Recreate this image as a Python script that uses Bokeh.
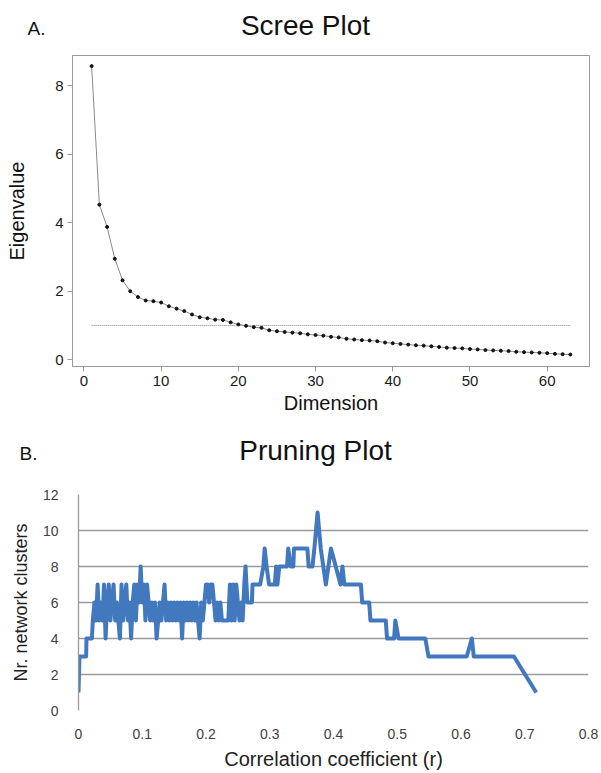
from bokeh.plotting import figure
from bokeh.models import Label, FixedTicker, NumeralTickFormatter, Range1d
from bokeh.embed import file_html
from bokeh.resources import INLINE

FONT = "Liberation Sans"

# ---------------- data: scree plot ----------------
DIMENSIONS = list(range(1, 64))
EIGENVALUES = [8.58, 4.53, 3.88, 2.95, 2.32, 2.00, 1.83, 1.73, 1.71, 1.67,
               1.56, 1.49, 1.42, 1.32, 1.24, 1.21, 1.17, 1.16, 1.09, 1.03,
               0.99, 0.95, 0.93, 0.86, 0.83, 0.81, 0.79, 0.77, 0.74, 0.72,
               0.70, 0.67, 0.65, 0.61, 0.59, 0.57, 0.56, 0.54, 0.50, 0.48,
               0.46, 0.44, 0.42, 0.41, 0.39, 0.37, 0.35, 0.34, 0.33, 0.31,
               0.30, 0.28, 0.27, 0.26, 0.25, 0.23, 0.22, 0.21, 0.20, 0.19,
               0.17, 0.16, 0.15]
KAISER = 1.0
SCREE_X_TICKS = [0, 10, 20, 30, 40, 50, 60]
SCREE_Y_TICKS = [0, 2, 4, 6, 8]

# ---------------- data: pruning plot ----------------
R_VALUES = [0.0, 0.0015, 0.012, 0.0125, 0.021,
            0.0225, 0.025, 0.0275, 0.03, 0.0325, 0.035, 0.0375, 0.04, 0.0425, 0.045,
            0.0475, 0.05, 0.0525, 0.055, 0.0575, 0.06, 0.0625, 0.065, 0.0675, 0.07,
            0.0725, 0.075, 0.0775, 0.08, 0.0825, 0.085, 0.0875, 0.09, 0.0925, 0.095,
            0.0975, 0.1, 0.1025, 0.105, 0.1075, 0.11, 0.1125, 0.115, 0.1175, 0.12,
            0.1225, 0.125, 0.1275, 0.13, 0.1325, 0.135, 0.1375, 0.14, 0.1425, 0.145,
            0.1475, 0.15, 0.1525, 0.155, 0.1575, 0.16, 0.1625, 0.165, 0.1675, 0.17,
            0.1725, 0.175, 0.1775, 0.18, 0.1825, 0.185, 0.1875, 0.19, 0.1925, 0.195,
            0.1975, 0.2, 0.2025, 0.205, 0.2075, 0.21, 0.2125, 0.215, 0.2175, 0.22,
            0.2225, 0.225, 0.23, 0.235, 0.2375, 0.24, 0.2425, 0.245, 0.2475, 0.25,
            0.2525, 0.255, 0.2575, 0.26, 0.262, 0.265, 0.272, 0.273, 0.285, 0.29,
            0.292, 0.295, 0.299, 0.308, 0.31, 0.312, 0.315, 0.327, 0.329, 0.333,
            0.337, 0.338, 0.359, 0.361, 0.367, 0.37, 0.375, 0.38, 0.388, 0.396,
            0.411, 0.414, 0.417, 0.443, 0.445, 0.456, 0.458, 0.482, 0.484, 0.495,
            0.497, 0.502, 0.544, 0.549, 0.609, 0.617, 0.62, 0.683, 0.718]
CLUSTERS = [1, 3, 3, 4, 4,
            5, 6, 5, 7, 5, 6, 5, 7, 4, 6,
            7, 5, 6, 7, 5, 6, 5, 4, 7, 5,
            6, 7, 5, 6, 4, 6, 7, 5, 7, 6,
            8, 6, 7, 5, 7, 6, 5, 6, 5, 6,
            4, 5, 6, 5, 6, 7, 5, 6, 5, 6,
            5, 6, 5, 6, 5, 6, 4, 6, 5, 6,
            5, 6, 5, 6, 5, 6, 5, 4, 6, 5,
            6, 7, 7, 6, 7, 7, 6, 5, 6, 5,
            6, 5, 5, 5, 7, 5, 7, 5, 7, 6,
            5, 6, 5, 7, 8, 6, 6, 7, 7, 8,
            9, 8, 7, 7, 8, 7, 8, 8, 9, 8,
            8, 9, 9, 8, 8, 9, 11, 9, 7, 9,
            7, 8, 7, 7, 6, 6, 5, 5, 4, 4,
            5, 4, 4, 3, 3, 4, 3, 3, 1]
PRUNE_X_TICKS = [0, 0.1, 0.2, 0.3, 0.4, 0.5, 0.6, 0.7, 0.8]
PRUNE_Y_TICKS = [0, 2, 4, 6, 8, 10, 12]

W = 601


def header(height, title, title_x, title_y, tag, tag_x, tag_y):
    h = figure(width=W, height=height, output_backend="svg", toolbar_location=None,
               x_range=Range1d(0, W), y_range=Range1d(0, height),
               x_axis_type=None, y_axis_type=None,
               min_border_left=0, min_border_right=0, min_border_top=0,
               min_border_bottom=0)
    h.title.text = ""
    h.grid.visible = False
    h.outline_line_color = None
    h.add_layout(Label(x=title_x, y=height - title_y, text=title, text_align="center",
                       text_baseline="middle", text_font=FONT, text_font_size="28px",
                       text_color="#111111"))
    h.add_layout(Label(x=tag_x, y=height - tag_y, text=tag, text_align="left",
                       text_baseline="middle", text_font=FONT, text_font_size="19px",
                       text_color="#111111"))
    return h


# ---------------- figure A: scree plot ----------------
h1 = header(52, "Scree Plot", 305, 25, "A.", 27, 28)

p1 = figure(width=W, height=368, output_backend="svg", toolbar_location=None,
            x_range=Range1d(-1.48, 65.48), y_range=Range1d(-0.2, 8.89),
            min_border_left=72, min_border_right=12, min_border_top=3,
            min_border_bottom=54)
p1.title.text = ""
p1.grid.visible = False
p1.outline_line_color = "#9a9a9a"
p1.outline_line_width = 1

for ax in (p1.xaxis[0], p1.yaxis[0]):
    ax.axis_line_color = "#9a9a9a"
    ax.major_tick_line_color = "#9a9a9a"
    ax.major_tick_out = 5
    ax.major_tick_in = 0
    ax.minor_tick_line_color = None
    ax.major_label_text_font = FONT
    ax.major_label_text_font_size = "15px"
    ax.major_label_text_color = "#1a1a1a"
    ax.axis_label_text_font = FONT
    ax.axis_label_text_font_size = "20px"
    ax.axis_label_text_font_style = "normal"
    ax.axis_label_text_color = "#111111"

p1.xaxis.ticker = FixedTicker(ticks=SCREE_X_TICKS)
p1.yaxis.ticker = FixedTicker(ticks=SCREE_Y_TICKS)
p1.xaxis.axis_label = "Dimension"
p1.yaxis.axis_label = "Eigenvalue"
p1.xaxis.major_label_standoff = 4
p1.xaxis.axis_label_standoff = 3
p1.yaxis.major_label_standoff = 4
p1.yaxis.axis_label_standoff = 24
p1.yaxis.major_label_orientation = "horizontal"

p1.line([DIMENSIONS[0], DIMENSIONS[-1]], [KAISER, KAISER], line_color="#777777",
        line_width=1, line_dash="1 1")
p1.line(DIMENSIONS, EIGENVALUES, line_color="#8a8a8a", line_width=1)
p1.scatter(DIMENSIONS, EIGENVALUES, size=3, color="#111111")

# ---------------- figure B: pruning plot ----------------
h2 = header(62, "Pruning Plot", 315, 30, "B.", 19, 33)

p2 = figure(width=W, height=290, output_backend="svg", toolbar_location=None,
            x_range=Range1d(0, 0.8), y_range=Range1d(0, 12),
            min_border_left=78, min_border_right=13, min_border_top=12,
            min_border_bottom=58)
p2.title.text = ""
p2.outline_line_color = None
p2.xgrid.visible = False
p2.ygrid.grid_line_color = "#9a9a9a"
p2.ygrid.grid_line_width = 1.3
p2.ygrid.ticker = FixedTicker(ticks=PRUNE_Y_TICKS)

for ax in (p2.xaxis[0], p2.yaxis[0]):
    ax.major_tick_line_color = None
    ax.minor_tick_line_color = None
    ax.major_label_text_font = FONT
    ax.major_label_text_font_size = "14px"
    ax.major_label_text_color = "#404040"
    ax.axis_label_text_font = FONT
    ax.axis_label_text_font_style = "normal"
    ax.axis_label_text_color = "#222222"

p2.xaxis.axis_line_color = None
p2.yaxis.axis_line_color = "#9a9a9a"
p2.yaxis.axis_line_width = 1.3
p2.xaxis.ticker = FixedTicker(ticks=PRUNE_X_TICKS)
p2.yaxis.ticker = FixedTicker(ticks=PRUNE_Y_TICKS)
p2.xaxis.formatter = NumeralTickFormatter(format="0.[0]")
p2.xaxis.axis_label = "Correlation coefficient (r)"
p2.yaxis.axis_label = "Nr. network clusters"
p2.xaxis.axis_label_text_font_size = "20px"
p2.yaxis.axis_label_text_font_size = "18px"
p2.xaxis.major_label_standoff = 12
p2.xaxis.axis_label_standoff = 6
p2.yaxis.major_label_standoff = 14
p2.yaxis.axis_label_standoff = 9
p2.yaxis.major_label_orientation = "horizontal"

p2.line(R_VALUES, CLUSTERS, line_color="#4178BE", line_width=4,
        line_join="round")

open("out.html", "w").write(file_html([h1, p1, h2, p2], INLINE))
